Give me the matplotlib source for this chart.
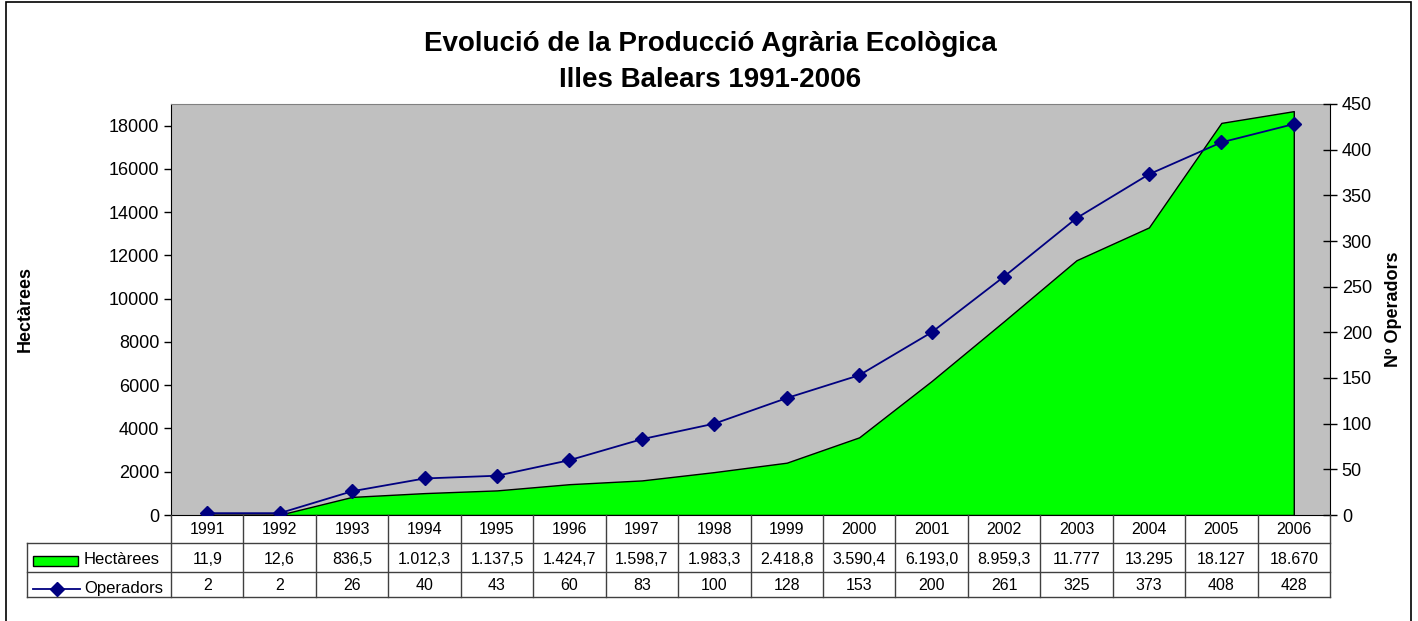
import matplotlib
matplotlib.use("Agg")
import matplotlib.pyplot as plt
import matplotlib.transforms as mtransforms
from matplotlib.patches import Rectangle
from matplotlib.lines import Line2D

plt.rcParams["font.family"] = ["Liberation Sans", "DejaVu Sans"]

years = ["1991", "1992", "1993", "1994", "1995", "1996", "1997", "1998",
         "1999", "2000", "2001", "2002", "2003", "2004", "2005", "2006"]
hectarees = [11.9, 12.6, 836.5, 1012.3, 1137.5, 1424.7, 1598.7, 1983.3,
             2418.8, 3590.4, 6193.0, 8959.3, 11777, 13295, 18127, 18670]
hectarees_labels = ["11,9", "12,6", "836,5", "1.012,3", "1.137,5", "1.424,7",
                    "1.598,7", "1.983,3", "2.418,8", "3.590,4", "6.193,0",
                    "8.959,3", "11.777", "13.295", "18.127", "18.670"]
operadors = [2, 2, 26, 40, 43, 60, 83, 100, 128, 153, 200, 261, 325, 373, 408, 428]

W, H = 1418, 621
fig = plt.figure(figsize=(W / 100, H / 100), dpi=100)


def fx(px):
    return px / W


def fy(py):
    return 1 - py / H


# plot area in pixels
L, R, T, B = 171, 1330, 104, 515
ax = fig.add_axes([fx(L), fy(B), fx(R) - fx(L), fy(T) - fy(B)])
ax.set_facecolor("#c0c0c0")

x = list(range(len(years)))
ax.fill_between(x, hectarees, 0, facecolor="#00ff00", edgecolor="black", linewidth=1, zorder=2)
ax.set_xlim(-0.5, len(years) - 0.5)
ax.set_ylim(0, 19000)
ax.set_yticks(range(0, 18001, 2000))
ax.set_xticks([])
ax.tick_params(axis="y", labelsize=13, length=5, direction="out", width=1)
ax.spines["top"].set_color("#808080")
ax.spines["bottom"].set_color("black")
ax.spines["left"].set_color("black")
ax.spines["right"].set_visible(False)
fig.text(fx(25), fy(309), "Hectàrees", rotation=90, fontsize=13, fontweight="bold",
         ha="center", va="center")

ax2 = ax.twinx()
ax2.plot(x, operadors, color="#000080", linewidth=1.3, marker="D", markersize=7.5,
         markerfacecolor="#000080", markeredgecolor="#000080", zorder=3)
ax2.set_ylim(0, 450)
ax2.set_yticks(range(0, 451, 50))
ax2.tick_params(axis="y", labelsize=13, length=10, direction="inout", width=1)
for s in ["top", "left", "bottom"]:
    ax2.spines[s].set_visible(False)
ax2.spines["right"].set_color("black")
fig.text(fx(1394), fy(309), "Nº Operadors", rotation=90, fontsize=13, fontweight="bold",
         ha="center", va="center")

# title
fig.text(fx(710), fy(44), "Evolució de la Producció Agrària Ecològica", fontsize=20,
         fontweight="bold", ha="center", va="center")
fig.text(fx(710), fy(80), "Illes Balears 1991-2006", fontsize=20,
         fontweight="bold", ha="center", va="center")

# data table under the plot
trans = mtransforms.blended_transform_factory(ax.transData, fig.transFigure)
rows = [515, 543, 572, 597]
lc = "#404040"
for k in range(len(years) + 1):
    xb = k - 0.5
    fig.add_artist(Line2D([xb, xb], [fy(rows[0]), fy(rows[-1])], transform=trans,
                          color=lc, linewidth=1))
for yr in rows[1:]:
    fig.add_artist(Line2D([fx(27), fx(R)], [fy(yr), fy(yr)], transform=fig.transFigure,
                          color=lc, linewidth=1))
fig.add_artist(Line2D([fx(27), fx(27)], [fy(rows[1]), fy(rows[-1])], transform=fig.transFigure,
                      color=lc, linewidth=1))

for i in x:
    fig.text(i, fy(530), years[i], transform=trans, ha="center", va="center", fontsize=11.5)
    fig.text(i, fy(559), hectarees_labels[i], transform=trans, ha="center", va="center", fontsize=11.5)
    fig.text(i, fy(586), str(operadors[i]), transform=trans, ha="center", va="center", fontsize=11.5)

# legend keys in table
fig.add_artist(Rectangle((fx(33), fy(566)), fx(78) - fx(33), fy(556) - fy(566),
                         transform=fig.transFigure, facecolor="#00ff00", edgecolor="black",
                         linewidth=1))
fig.text(fx(84), fy(560), "Hectàrees", ha="left", va="center", fontsize=12)
fig.add_artist(Line2D([fx(33), fx(80)], [fy(589), fy(589)], transform=fig.transFigure,
                      color="#000080", linewidth=1.3))
fig.add_artist(Line2D([fx(57)], [fy(589)], transform=fig.transFigure, color="#000080",
                      marker="D", markersize=7.5, linestyle="none"))
fig.text(fx(84), fy(588), "Operadors", ha="left", va="center", fontsize=12)

# outer frame (bottom edge falls just outside the image)
fig.add_artist(Rectangle((fx(6), fy(625)), fx(1411) - fx(6), fy(2) - fy(625),
                         transform=fig.transFigure, facecolor="none", edgecolor="black",
                         linewidth=1.2))

fig.savefig("out.png", dpi=100)
